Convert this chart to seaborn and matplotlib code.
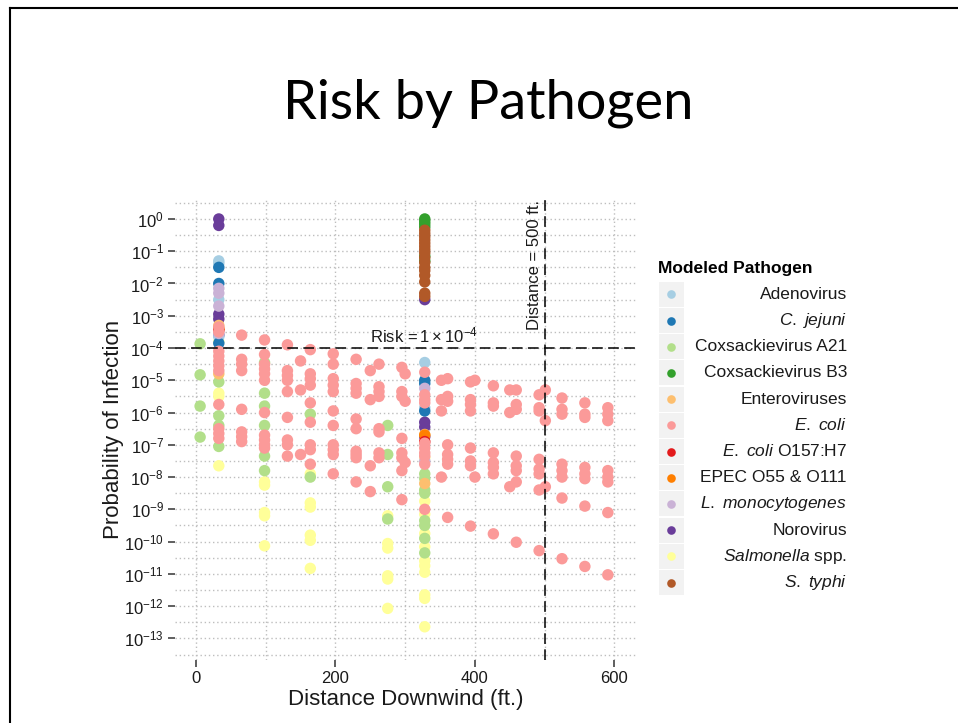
import numpy as np
import pandas as pd
import matplotlib
matplotlib.use("Agg")
import matplotlib.pyplot as plt
import seaborn as sns
from matplotlib.lines import Line2D
from matplotlib.patches import Rectangle
from matplotlib.ticker import NullFormatter, FixedLocator

# ---------------- data (distance in ft -> log10 probability of infection) ----------------
pathogens = ["Adenovirus", "C. jejuni", "Coxsackievirus A21", "Coxsackievirus B3",
             "Enteroviruses", "E. coli", "E. coli O157:H7", "EPEC O55 & O111",
             "L. monocytogenes", "Norovirus", "Salmonella spp.", "S. typhi"]
legend_labels = ["Adenovirus", r"$\it{C.\ jejuni}$", "Coxsackievirus A21", "Coxsackievirus B3",
                 "Enteroviruses", r"$\it{E.\ coli}$", r"$\it{E.\ coli}\ $O157:H7", "EPEC O55 & O111",
                 r"$\it{L.\ monocytogenes}$", "Norovirus", r"$\it{Salmonella}\ $spp.", r"$\it{S.\ typhi}$"]
colors = ["#A6CEE3", "#1F78B4", "#B2DF8A", "#33A02C", "#FDBF6F", "#FB9A99",
          "#E31A1C", "#FF7F00", "#CAB2D6", "#6A3D9A", "#FFFF99", "#B15928"]

ecoli = {
    32.8: [-3.35, -3.5, -4.1, -4.25, -4.4, -4.55, -4.7, -5.75, -6.5, -6.65, -6.8],
    65.6: [-3.6, -4.35, -4.5, -4.7, -5.9, -6.6, -6.75, -6.9],
    98.4: [-3.75, -4.2, -4.5, -4.65, -4.8, -5.0, -6.0, -6.7, -6.85, -7.0, -7.1],
    131.2: [-3.9, -4.7, -4.85, -5.0, -5.35, -6.15, -6.85, -7.0, -7.35],
    150.0: [-4.4, -5.3, -7.3],
    164.0: [-4.05, -4.8, -4.95, -5.15, -5.7, -6.3, -7.0, -7.15, -7.6],
    196.9: [-4.18, -4.5, -4.95, -5.15, -5.35, -5.95, -6.4, -7.0, -7.15, -7.3, -7.9],
    229.7: [-4.35, -5.1, -5.25, -5.4, -6.2, -6.5, -7.2, -7.3, -7.4, -8.15],
    250.0: [-4.7, -5.6, -7.65, -8.45],
    262.5: [-4.5, -5.2, -5.35, -5.5, -6.5, -6.6, -7.25, -7.4],
    295.3: [-4.6, -5.35, -5.5, -6.8, -7.25, -7.4, -7.8, -8.7],
    300.0: [-4.8, -5.65, -7.55],
    328.1: [-4.75, -5.45, -5.6, -5.7, -6.95, -7.1, -7.25, -7.35, -7.6, -9.0],
    352.0: [-5.0, -5.6, -5.95, -8.0],
    360.9: [-4.95, -5.5, -5.65, -7.0, -7.3, -7.45, -7.6, -9.25],
    393.7: [-5.05, -5.6, -5.75, -5.95, -7.1, -7.5, -7.65, -9.52],
    400.0: [-5.0, -8.0],
    426.5: [-5.17, -5.7, -5.8, -7.25, -7.55, -7.7, -7.9, -9.76],
    450.0: [-5.3, -6.0, -8.3],
    459.3: [-5.3, -5.75, -5.9, -7.35, -7.65, -7.8, -8.15, -10.02],
    492.1: [-5.45, -5.85, -5.95, -7.45, -7.75, -7.9, -8.4, -10.28],
    501.0: [-5.3, -6.25, -8.3],
    524.9: [-5.55, -5.9, -6.05, -7.6, -7.8, -8.0, -8.65, -10.53],
    557.7: [-5.7, -6.05, -6.15, -7.7, -7.9, -8.05, -8.9, -10.77],
    590.6: [-5.85, -6.05, -6.25, -7.8, -8.0, -8.15, -9.1, -11.03],
}
cox_a21 = {6.0: [-3.87, -4.83, -5.8, -6.76],
           32.8: [-5.05, -6.1, -6.4, -7.05],
           98.4: [-4.45, -5.4, -5.8, -6.4, -7.35, -7.8],
           164.0: [-6.05, -8.0],
           275.0: [-6.4, -7.3, -8.3, -9.3],
           328.1: [-7.9, -8.05, -8.4, -8.5, -9.35, -9.5, -9.9, -10.35]}
salmonella = {32.8: [-3.8, -5.4, -5.5, -7.65],
              98.4: [-8.15, -8.25, -9.1, -9.2, -10.13],
              164.0: [-7.9, -8.8, -8.93, -9.8, -9.96, -10.83],
              275.0: [-9.2, -10.06, -10.2, -11.06, -11.16, -12.07],
              328.1: [-7.4, -8.75, -9.15, -9.75, -10.16, -10.6, -10.75, -10.95, -11.65, -11.76, -12.64]}
adenovirus = {32.8: [-1.3, -1.38, -2.5, -3.65], 328.1: [-4.45, -5.85]}
c_jejuni = {32.8: [-1.5, -2.0, -3.85], 328.1: [-5.0, -5.1, -5.95]}
enteroviruses = {32.8: [-3.3, -3.42, -4.8], 328.1: [-6.68, -8.2]}
ecoli_o157 = {32.8: [-3.45], 328.1: [-6.9]}
epec = {32.8: [-3.4], 328.1: [-6.7]}
l_mono = {32.8: [-2.15, -2.3, -2.7, -3.55], 328.1: [-5.25, -7.5]}
norovirus = {32.8: [0.0, -0.2, -2.95, -3.1, -3.6], 328.1: [-2.5, -6.3, -6.45, -6.75]}
cox_b3 = {328.1: [0.0, -0.08, -0.16, -0.25, -1.15, -1.3]}
s_typhi = {328.1: [-0.35, -0.45, -0.55, -0.65, -0.75, -0.85, -0.95, -1.05, -1.2, -1.35,
                   -1.5, -1.6, -1.75, -1.95, -2.3, -2.4]}

draw_order = [("Salmonella spp.", salmonella), ("Coxsackievirus A21", cox_a21),
              ("Coxsackievirus B3", cox_b3), ("Norovirus", norovirus),
              ("Enteroviruses", enteroviruses), ("EPEC O55 & O111", epec),
              ("E. coli O157:H7", ecoli_o157), ("Adenovirus", adenovirus),
              ("C. jejuni", c_jejuni), ("L. monocytogenes", l_mono),
              ("E. coli", ecoli), ("S. typhi", s_typhi)]

rows = []
for name, d in draw_order:
    for x, vals in d.items():
        for v in vals:
            rows.append((name, x, 10.0 ** v))
df = pd.DataFrame(rows, columns=["pathogen", "distance", "prob"])
palette = dict(zip(pathogens, colors))

# ---------------- style ----------------
plt.rcParams["font.family"] = ["Liberation Sans", "DejaVu Sans"]
plt.rcParams["mathtext.fontset"] = "custom"
plt.rcParams["mathtext.rm"] = "Liberation Sans"
plt.rcParams["mathtext.it"] = "Liberation Sans:italic"
plt.rcParams["mathtext.bf"] = "Liberation Sans:bold"

W, H = 958, 723
fig = plt.figure(figsize=(W / 100, H / 100), dpi=100)
fig.patch.set_facecolor("white")

# slide border
fig.add_artist(Line2D([10 / W, 1.0], [1 - 8 / H, 1 - 8 / H], color="black", lw=1.5))
fig.add_artist(Line2D([10 / W, 10 / W], [1 - 8 / H, 0.0], color="black", lw=1.5))

fig.text(488 / W, 1 - 103 / H, "Risk by Pathogen", ha="center", va="center",
         fontsize=39, family="Lato", color="black")

left, right, top, bottom = 175, 636, 198, 660
ax = fig.add_axes([left / W, 1 - bottom / H, (right - left) / W, (bottom - top) / H])
ax.set_facecolor("white")

sns.scatterplot(data=df, x="distance", y="prob", hue="pathogen", hue_order=pathogens,
                palette=palette, s=68, linewidth=0, alpha=1.0, legend=False, ax=ax, zorder=3)

ax.set_yscale("log")
ax.set_xlim(-30, 631)
ax.set_ylim(10 ** -13.67, 10 ** 0.65)

exps = np.arange(0, -14, -1)
ax.yaxis.set_major_locator(FixedLocator(10.0 ** exps))
ax.set_yticklabels([r"$10^{%d}$" % e for e in exps])
ax.yaxis.set_minor_locator(FixedLocator(10.0 ** (np.arange(0.5, -14, -1))))
ax.yaxis.set_minor_formatter(NullFormatter())
ax.set_xticks([0, 200, 400, 600])
ax.set_xticks([100, 300, 500], minor=True)

ax.grid(which="both", color="#BEBEBE", linestyle=(0, (1, 2)), linewidth=1.0, zorder=0)
ax.set_axisbelow(True)
for sp in ax.spines.values():
    sp.set_visible(False)
ax.tick_params(which="major", length=5, width=1.1, color="#333333", labelsize=12,
               labelcolor="#1A1A1A", pad=3)
ax.tick_params(which="minor", length=0)

ax.set_xlabel("Distance Downwind (ft.)", fontsize=16, color="#1A1A1A")
ax.set_ylabel("Probability of Infection", fontsize=16, color="#1A1A1A")
ax.xaxis.set_label_coords(0.5, (bottom - 699) / (bottom - top))
ax.xaxis.label.set_va("center")
ax.yaxis.set_label_coords((113 - left) / (right - left), 0.5)
ax.yaxis.label.set_va("center")

ax.axhline(1e-4, color="black", lw=1.1, linestyle=(0, (7, 3.5)), zorder=4)
ax.axvline(500, color="black", lw=1.1, linestyle=(0, (7, 3.5)), zorder=4)
ax.text(327, 10 ** -3.62, r"Risk$\,=1\times10^{-4}$", ha="center", va="center",
        fontsize=12, color="#1A1A1A", zorder=5)
ax.text(486, 10 ** -1.43, "Distance = 500 ft.", rotation=90, ha="center", va="center",
        fontsize=12, color="#1A1A1A", zorder=5)

# ---------------- legend (right aligned labels, grey key boxes) ----------------
fig.text(658 / W, 1 - 269 / H, "Modeled Pathogen", ha="left", va="center",
         fontsize=12.5, weight="bold", color="black")
for i, (lab, col) in enumerate(zip(legend_labels, colors)):
    yc = 294.3 + 26.2 * i
    fig.add_artist(Rectangle((658.5 / W, 1 - (yc + 12.4) / H), 25 / W, 24.8 / H,
                             transform=fig.transFigure, facecolor="#F2F2F2", edgecolor="none"))
    fig.add_artist(Line2D([671 / W], [1 - yc / H], marker="o", markersize=6.2,
                          markerfacecolor=col, markeredgewidth=0, linestyle="none"))
    fig.text(847 / W, 1 - yc / H, lab, ha="right", va="center", fontsize=12.5, color="#1A1A1A")

fig.savefig("out.png", dpi=100, facecolor="white")
